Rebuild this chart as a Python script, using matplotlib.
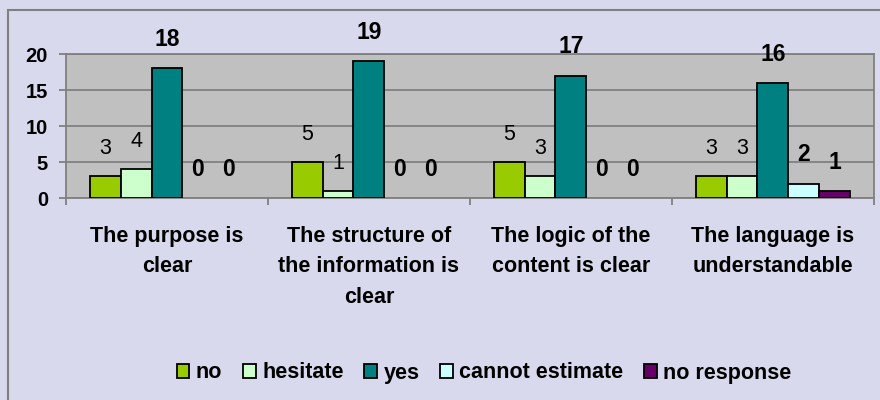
import numpy as np
import matplotlib
matplotlib.use("Agg")
import matplotlib.pyplot as plt
from matplotlib.patches import Rectangle, Patch

plt.rcParams['font.family'] = ['Liberation Sans', 'DejaVu Sans']

categories = ["The purpose is\nclear",
              "The structure of\nthe information is\nclear",
              "The logic of the\ncontent is clear",
              "The language is\nunderstandable"]
series = ["no", "hesitate", "yes", "cannot estimate", "no response"]
no = [3, 5, 5, 3]
hesitate = [4, 1, 3, 3]
yes = [18, 19, 17, 16]
cannot_estimate = [0, 0, 0, 2]
no_response = [0, 0, 0, 1]
values = [no, hesitate, yes, cannot_estimate, no_response]

colors = ["#99CC00", "#CCFFCC", "#008080", "#CCFFFF", "#660066"]
label_bold = [False, False, True, True, True]
bg = "#D9D9ED"
grid_gray = "#808080"

fig = plt.figure(figsize=(8.8, 4), dpi=100, facecolor=bg)
ax = fig.add_axes([0.075, 0.505, 0.918, 0.36])
ax.set_facecolor("#C0C0C0")

# outer chart frame
fig.patches.append(Rectangle((8 / 880, -0.1), 1.2, 0.975 + 0.1, transform=fig.transFigure,
                             fill=False, edgecolor=grid_gray, linewidth=1.5))

x = np.arange(len(categories))
w = 0.153
handles = []
for i, (name, vals) in enumerate(zip(series, values)):
    pos = x + (i - 2) * w
    bars = ax.bar(pos, vals, width=w, color=colors[i], edgecolor="black", linewidth=1.3,
                  zorder=3)
    # excel draws nothing for zero-height bars
    for b, v in zip(bars, vals):
        if v == 0:
            b.set_visible(False)
    for p, v in zip(pos, vals):
        ax.annotate(str(v), (p, v), xytext=(0, 16), textcoords="offset points",
                    ha="center", va="baseline",
                    fontsize=16.5 if label_bold[i] else 15.5,
                    fontweight="bold" if label_bold[i] else "normal",
                    annotation_clip=False)
    handles.append(Patch(facecolor=colors[i], edgecolor="black", linewidth=1.3, label=name))

ax.set_xlim(-0.5, len(categories) - 0.5)
ax.set_ylim(0, 20)
ax.set_yticks([0, 5, 10, 15, 20])
ax.yaxis.grid(True, color=grid_gray, linewidth=1.3, zorder=0)
ax.set_axisbelow(True)

ax.set_xticks(np.arange(len(categories) + 1) - 0.5)
ax.set_xticklabels([])
ax.set_xticks(x, minor=True)
ax.set_xticklabels(categories, minor=True, fontsize=15.5, fontweight="bold", linespacing=1.6)
ax.tick_params(axis="x", which="minor", length=0, pad=20)
ax.tick_params(axis="x", which="major", length=5, color=grid_gray, width=1.3)
ax.tick_params(axis="y", length=5, color=grid_gray, width=1.3, pad=8)
for t in ax.get_yticklabels():
    t.set_fontsize(14.5)
    t.set_fontweight("bold")

for s in ax.spines.values():
    s.set_color(grid_gray)
    s.set_linewidth(1.3)

fig.legend(handles=handles, loc="center", bbox_to_anchor=(484 / 880, 1 - 373 / 400), ncol=5,
           frameon=False, prop={"size": 15.5, "weight": "bold"}, handlelength=0.6,
           handleheight=0.6, handletextpad=0.3, columnspacing=0.95)

fig.savefig("out.png", dpi=100, facecolor=bg)
